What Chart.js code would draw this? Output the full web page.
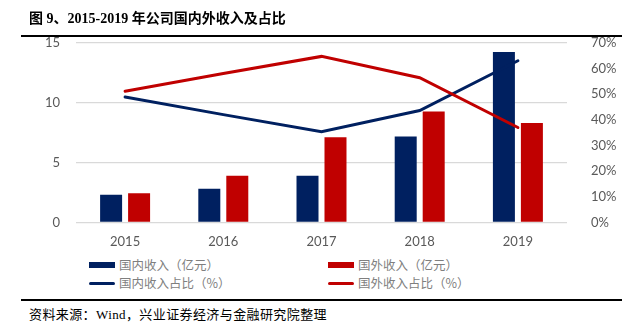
<!DOCTYPE html>
<html>
<head>
<meta charset="utf-8">
<script src="https://cdn.jsdelivr.net/npm/chart.js@4/dist/chart.umd.min.js"></script>
<style>
  html, body { margin: 0; padding: 0; background: #fff; }
  body { width: 627px; height: 336px; position: relative; overflow: hidden; }
  .title {
    position: absolute; left: 29px; top: 7px;
    font: bold 14px "Liberation Serif", "Noto Sans CJK SC", serif;
    color: #000; white-space: nowrap;
  }
  .rule { position: absolute; left: 21px; width: 601px; background: #000; }
  #wrap { position: absolute; left: 0; top: 19px; width: 627px; height: 235px; }
  .legend { position: absolute; font: 12.5px "Noto Sans CJK SC", sans-serif; color: #7f7f7f; }
  .item { position: absolute; white-space: nowrap; line-height: 16px; }
  .sw { position: absolute; }
  .source {
    position: absolute; left: 29px; top: 304px;
    font: 13px "Liberation Serif", "Noto Sans CJK SC", serif;
    letter-spacing: 0.4px; color: #000; white-space: nowrap;
  }
</style>
</head>
<body>
<div id="wrap"><canvas id="chart"></canvas></div>
<div class="title">图 9、2015-2019 年公司国内外收入及占比</div>
<div class="rule" style="top:35px;height:2px"></div>
<div class="legend" id="legend"></div>
<div class="rule" style="top:299px;height:2px"></div>
<div class="source">资料来源：Wind，兴业证券经济与金融研究院整理</div>

<script>
const years = ['2015', '2016', '2017', '2018', '2019'];
// 收入（亿元）
const domesticRevenue = [2.31, 2.82, 3.90, 7.18, 14.24];
const foreignRevenue = [2.43, 3.90, 7.12, 9.27, 8.31];
// 占比（%）
const domesticShare = [48.9, 42.0, 35.3, 43.6, 63.0];
const foreignShare = [51.1, 58.0, 64.7, 56.4, 37.0];

const leftTicks = [0, 5, 10, 15];
const rightTicks = [0, 10, 20, 30, 40, 50, 60, 70];

const navy = '#002060';
const red = '#C00000';
const tickFont = { family: 'Lato, "Open Sans", sans-serif', size: 13 };

const ctx = document.getElementById('chart').getContext('2d');
new Chart(ctx, {
    data: {
        labels: years,
        datasets: [
            { type: 'bar', label: '国内收入（亿元）', data: domesticRevenue, yAxisID: 'y',
              backgroundColor: navy, categoryPercentage: 0.57, barPercentage: 0.786, order: 2 },
            { type: 'bar', label: '国外收入（亿元）', data: foreignRevenue, yAxisID: 'y',
              backgroundColor: red, categoryPercentage: 0.57, barPercentage: 0.786, order: 3 },
            { type: 'line', label: '国内收入占比（%）', data: domesticShare, yAxisID: 'y1',
              borderColor: navy, borderWidth: 3, pointRadius: 0, tension: 0, order: 1,
              borderCapStyle: 'round' },
            { type: 'line', label: '国外收入占比（%）', data: foreignShare, yAxisID: 'y1',
              borderColor: red, borderWidth: 3, pointRadius: 0, tension: 0, order: 0,
              borderCapStyle: 'round' }
        ]
    },
    options: {
        responsive: true,
        maintainAspectRatio: false,
        animation: false,
        layout: { padding: 0 },
        plugins: { legend: { display: false }, tooltip: { enabled: false } },
        scales: {
            x: {
                grid: { display: false },
                border: { display: false },
                ticks: { color: '#595959', font: tickFont, padding: 4 }
            },
            y: {
                position: 'left',
                min: 0, max: 15,
                afterBuildTicks: axis => { axis.ticks = leftTicks.map(v => ({ value: v })); },
                afterFit: axis => { axis.width = 76; },
                grid: { color: '#D9D9D9', lineWidth: 1.2, drawTicks: false },
                border: { display: false },
                ticks: { color: '#595959', font: tickFont, padding: 16 }
            },
            y1: {
                position: 'right',
                min: 0, max: 70,
                afterBuildTicks: axis => { axis.ticks = rightTicks.map(v => ({ value: v })); },
                afterFit: axis => { axis.width = 60; },
                grid: { display: false },
                border: { display: false },
                ticks: { color: '#595959', font: tickFont, padding: 16, callback: v => v + '%' }
            }
        }
    }
});

// 图例：两行两列
const legendItems = [
    { text: '国内收入（亿元）', color: navy, kind: 'box', x: 89, y: 257 },
    { text: '国外收入（亿元）', color: red, kind: 'box', x: 328, y: 257 },
    { text: '国内收入占比（%）', color: navy, kind: 'line', x: 89, y: 275 },
    { text: '国外收入占比（%）', color: red, kind: 'line', x: 328, y: 275 }
];
const legend = document.getElementById('legend');
legendItems.forEach(it => {
    const sw = document.createElement('div');
    sw.className = 'sw';
    sw.style.left = it.x + 'px';
    sw.style.width = '26px';
    sw.style.background = it.color;
    if (it.kind === 'box') {
        sw.style.top = (it.y + 5) + 'px';
        sw.style.height = '6px';
    } else {
        sw.style.top = (it.y + 6.5) + 'px';
        sw.style.height = '3px';
        sw.style.borderRadius = '2px';
    }
    legend.appendChild(sw);
    const t = document.createElement('div');
    t.className = 'item';
    t.style.left = (it.x + 30) + 'px';
    t.style.top = it.y + 'px';
    t.textContent = it.text;
    legend.appendChild(t);
});
</script>
</body>
</html>
